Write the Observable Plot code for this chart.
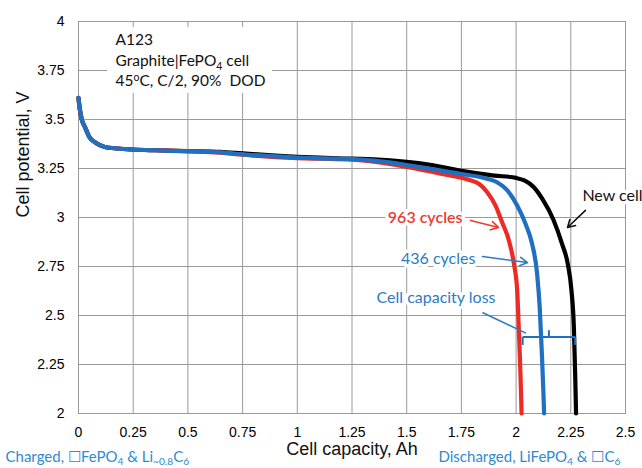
<!DOCTYPE html>
<html><head><meta charset="utf-8">
<script src="https://cdn.jsdelivr.net/npm/d3@7"></script>
<script src="https://cdn.jsdelivr.net/npm/@observablehq/plot@0.6"></script>
<style>body{margin:0;background:#fff} svg{display:block}</style>
</head><body><div id="chart"></div>
<script>
// ---- data ----
const xTicks = [0, 0.25, 0.5, 0.75, 1, 1.25, 1.5, 1.75, 2, 2.25, 2.5];
const yTicks = [2, 2.25, 2.5, 2.75, 3, 3.25, 3.5, 3.75, 4];

const newCellAh = [0, 0.005, 0.015, 0.03, 0.05, 0.08, 0.12, 0.18, 0.25, 0.35, 0.5, 0.65, 0.75, 0.9, 1.0, 1.1, 1.25, 1.35, 1.5, 1.6, 1.75, 1.9, 2.0, 2.04, 2.08, 2.12, 2.17, 2.21, 2.236, 2.253, 2.264, 2.27, 2.274];
const newCellV  = [3.61, 3.56, 3.50, 3.46, 3.41, 3.38, 3.36, 3.352, 3.347, 3.343, 3.339, 3.335, 3.327, 3.316, 3.31, 3.305, 3.30, 3.297, 3.284, 3.27, 3.238, 3.214, 3.202, 3.188, 3.156, 3.095, 2.99, 2.866, 2.764, 2.628, 2.44, 2.2, 2.0];

const cyc436Ah = [0, 0.005, 0.015, 0.03, 0.05, 0.08, 0.12, 0.18, 0.25, 0.35, 0.5, 0.65, 0.75, 0.9, 1.0, 1.1, 1.25, 1.35, 1.5, 1.6, 1.75, 1.87, 1.913, 1.96, 2.005, 2.043, 2.073, 2.096, 2.108, 2.118, 2.125, 2.128];
const cyc436V  = [3.61, 3.56, 3.50, 3.46, 3.41, 3.38, 3.36, 3.352, 3.347, 3.343, 3.338, 3.332, 3.322, 3.312, 3.306, 3.302, 3.298, 3.29, 3.268, 3.25, 3.222, 3.197, 3.18, 3.138, 3.061, 2.968, 2.866, 2.713, 2.54, 2.3, 2.1, 2.0];

const cyc963Ah = [0, 0.005, 0.015, 0.03, 0.05, 0.08, 0.12, 0.18, 0.25, 0.35, 0.5, 0.65, 0.75, 0.9, 1.0, 1.1, 1.25, 1.35, 1.5, 1.65, 1.79, 1.83, 1.868, 1.906, 1.936, 1.967, 1.99, 2.005, 2.012, 2.02, 2.025];
const cyc963V  = [3.61, 3.56, 3.50, 3.46, 3.41, 3.38, 3.36, 3.352, 3.347, 3.343, 3.338, 3.331, 3.32, 3.308, 3.303, 3.30, 3.295, 3.285, 3.258, 3.225, 3.19, 3.172, 3.129, 3.061, 2.976, 2.883, 2.764, 2.628, 2.44, 2.2, 2.0];

const seriesNames  = ["New cell", "436 cycles", "963 cycles"];
const seriesColors = ["#000000", "#1f70c1", "#ee2a24"];

// capacity-loss bracket: from 963-cycle end to new-cell end, at this potential
const lossAh = [2.03, 2.27];
const lossV = 2.39;

const infoLines = ["A123", "Graphite|FePO_{4} cell", "45^{o}C, C/2, 90%  DOD"];
const xLabel = "Cell capacity, Ah";
const yLabel = "Cell potential, V";
const captionLeft = "Charged, \u2610FePO_{4} & Li_{~0.8}C_{6}";
const captionRight = "Discharged, LiFePO_{4} & \u2610C_{6}";

// annotation placement (data units)
const infoBox = [{x1: 0.133, x2: 0.887, y1: 3.633, y2: 3.969}];
const infoY = [3.903, 3.796, 3.694];
const labels = [
  {text: "963 cycles", x: 1.755, y: 3.0, anchor: "end", color: "#ee3a30", weight: 600},
  {text: "436 cycles", x: 1.814, y: 2.79, anchor: "end", color: "#2a7cc6", weight: 400},
  {text: "Cell capacity loss", x: 1.362, y: 2.592, anchor: "start", color: "#2a7cc6", weight: 400},
  {text: "New cell", x: 2.303, y: 3.112, anchor: "start", color: "#111", weight: 400}
];
const arrows = [
  {x1: 1.792, y1: 2.985, x2: 1.92, y2: 2.949, color: "#ee3a30"},
  {x1: 1.846, y1: 2.801, x2: 2.052, y2: 2.77, color: "#2a7cc6"},
  {x1: 2.317, y1: 3.036, x2: 2.235, y2: 2.949, color: "#111"}
];
const leader = [{x1: 1.846, y1: 2.515, x2: 2.045, y2: 2.41}];

// ---- build table ----
const series = [
  {name: seriesNames[0], ah: newCellAh, v: newCellV},
  {name: seriesNames[1], ah: cyc436Ah, v: cyc436V},
  {name: seriesNames[2], ah: cyc963Ah, v: cyc963V}
];
const rows = series.flatMap(s => s.ah.map((a, i) => ({series: s.name, ah: a, v: s.v[i]})));
const colorOf = Object.fromEntries(seriesNames.map((n, i) => [n, seriesColors[i]]));
const lineOf = name => Plot.line(rows.filter(d => d.series === name), {
  x: "ah", y: "v", stroke: colorOf[name], strokeWidth: 4.2, curve: "monotone-x"
});

const lossMid = (lossAh[0] + lossAh[1]) / 2;
const bracketH = [{x1: lossAh[0], x2: lossAh[1], y1: lossV, y2: lossV}];
const bracketTicks = [
  {x: lossAh[0], y1: lossV, y2: lossV - 0.04},
  {x: lossAh[1], y1: lossV, y2: lossV - 0.04},
  {x: lossMid, y1: lossV, y2: lossV + 0.035}
];

const annFont = "Lato, 'Open Sans', sans-serif";
const blue = "#2a7cc6";
const gridColor = "#9a9a9a";
const fmt = d => String(d);
const labelMark = l => Plot.text([l], {x: "x", y: "y", text: "text", textAnchor: l.anchor, fill: l.color,
  fontWeight: l.weight, fontFamily: annFont, fontSize: 16, stroke: "white", strokeWidth: 7});
// grid segments spanning the frame, built from the tick arrays
const gridV = xTicks.map(t => ({x1: t, x2: t, y1: yTicks[0], y2: yTicks[yTicks.length - 1]}));
const gridH = yTicks.map(t => ({x1: xTicks[0], x2: xTicks[xTicks.length - 1], y1: t, y2: t}));

const chart = Plot.plot({
  width: 642, height: 468,
  marginLeft: 78, marginRight: 17, marginTop: 21, marginBottom: 55,
  style: {fontFamily: "'Liberation Sans', Arial, sans-serif", fontSize: "14px"},
  x: {domain: [0, 2.5]},
  y: {domain: [2, 4]},
  marks: [
    Plot.link(gridV, {x1: "x1", x2: "x2", y1: "y1", y2: "y2", stroke: gridColor, strokeWidth: 1}),
    Plot.link(gridH, {x1: "x1", x2: "x2", y1: "y1", y2: "y2", stroke: gridColor, strokeWidth: 1}),
    Plot.frame({stroke: "#999", fill: "none"}),
    Plot.axisX(xTicks, {tickSize: 0, tickPadding: 14, label: null, tickFormat: fmt}),
    Plot.axisY(yTicks, {tickSize: 0, tickPadding: 14, label: null, tickFormat: fmt}),
    lineOf("New cell"),
    lineOf("963 cycles"),
    lineOf("436 cycles"),
    // bracket
    Plot.link(bracketH, {x1: "x1", x2: "x2", y1: "y1", y2: "y2", stroke: "#1f70c1", strokeWidth: 2}),
    Plot.link(bracketTicks, {x1: "x", x2: "x", y1: "y1", y2: "y2", stroke: "#1f70c1", strokeWidth: 2}),
    Plot.link(leader, {x1: "x1", y1: "y1", x2: "x2", y2: "y2", stroke: blue, strokeWidth: 1.6}),
    // info box
    Plot.rect(infoBox, {x1: "x1", x2: "x2", y1: "y1", y2: "y2", fill: "white"}),
    Plot.text(infoLines, {x: 0.169, y: (d, i) => infoY[i], text: d => d, textAnchor: "start",
      fontFamily: annFont, fontSize: 15.5, fill: "#111"}),
    // curve labels
    ...labels.map(labelMark),
    Plot.arrow(arrows, {x1: "x1", y1: "y1", x2: "x2", y2: "y2", stroke: d => d.color, strokeWidth: 1.6, headLength: 8}),
    // axis titles
    Plot.text([xLabel], {text: d => d, frameAnchor: "bottom", lineAnchor: "middle", dy: 36, fontSize: 18, fill: "#111"}),
    Plot.text([yLabel], {text: d => d, frameAnchor: "left", dx: -55, rotate: -90, fontSize: 18, fill: "#111"}),
    // captions
    Plot.text([captionLeft], {text: d => d, frameAnchor: "bottom-left", lineAnchor: "middle", dx: -73, dy: 44, textAnchor: "start",
      fontFamily: annFont, fontSize: 15, fill: "#2f8ad2"}),
    Plot.text([captionRight], {text: d => d, frameAnchor: "bottom-left", lineAnchor: "middle", dx: 360, dy: 44, textAnchor: "start",
      fontFamily: annFont, fontSize: 15, fill: "#2f8ad2"})
  ]
});
document.getElementById("chart").appendChild(chart);

// ---- sub/superscripts ----
d3.select(chart).selectAll("text").each(function() {
  const t = this.textContent;
  if (!/[_^]\{/.test(t)) return;
  const fs = parseFloat(getComputedStyle(this).fontSize) || 14;
  const parts = [];
  const re = /([_^])\{([^}]*)\}/g;
  let last = 0, m;
  while ((m = re.exec(t))) {
    if (m.index > last) parts.push({s: t.slice(last, m.index), k: ""});
    parts.push({s: m[2], k: m[1]});
    last = re.lastIndex;
  }
  if (last < t.length) parts.push({s: t.slice(last), k: ""});
  while (this.firstChild) this.removeChild(this.firstChild);
  let cur = 0;
  for (const p of parts) {
    const ts = document.createElementNS("http://www.w3.org/2000/svg", "tspan");
    const target = p.k === "_" ? 0.2 * fs : p.k === "^" ? -0.38 * fs : 0;
    ts.setAttribute("dy", target - cur);
    cur = target;
    if (p.k) ts.setAttribute("font-size", (0.68 * fs).toFixed(1));
    ts.textContent = p.s;
    this.appendChild(ts);
  }
});
</script>
</body></html>
